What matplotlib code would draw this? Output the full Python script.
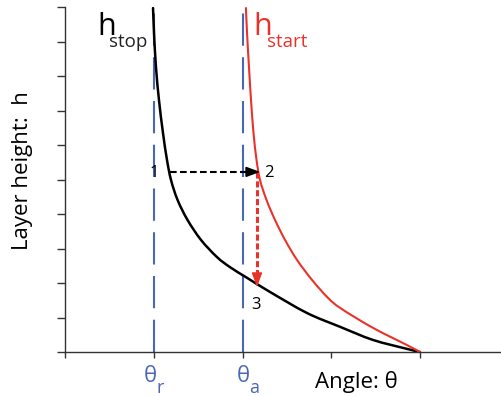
import numpy as np
import matplotlib
matplotlib.use('Agg')
from matplotlib import pyplot as plt
from matplotlib.path import Path
from matplotlib.patches import PathPatch

plt.rcParams['font.family'] = ['Open Sans', 'DejaVu Sans']

# curves (angle units: theta_r = 1, theta_a = 2)
h_stop_theta = [0.992, 1.003, 1.025, 1.059, 1.104, 1.149, 1.194, 1.268, 1.380, 1.532,
                1.713, 1.859, 2.051, 2.310, 2.727, 3.099, 3.470, 3.854, 4.0]
h_stop_h = [9.97, 9.25, 8.26, 7.30, 6.35, 5.57, 4.99, 4.41, 3.83, 3.25,
            2.75, 2.46, 2.15, 1.74, 1.13, 0.73, 0.35, 0.09, 0.0]
h_start_theta = [2.039, 2.051, 2.073, 2.096, 2.124, 2.158, 2.197, 2.270, 2.366, 2.479,
                 2.614, 2.783, 2.963, 3.110, 3.470, 3.854, 4.0]
h_start_h = [9.97, 9.25, 8.26, 7.30, 6.35, 5.57, 4.99, 4.41, 3.83, 3.25,
             2.67, 2.09, 1.57, 1.26, 0.70, 0.20, 0.0]

theta_r = 1.0
theta_a = 2.0
# path 1 -> 2 -> 3
p1 = (1.183, 5.22)
p2 = (2.20, 5.22)
p3 = (2.163, 1.88)

blue = '#4a67b5'
red = '#e8322b'
axcol = '#333333'


def smooth_path(xs, ys):
    # bezier segments through the read points (catmull-rom style handles)
    pts = np.column_stack([xs, ys])
    verts = [pts[0]]
    codes = [Path.MOVETO]
    n = len(pts)
    for i in range(n - 1):
        p0 = pts[max(i - 1, 0)]
        a = pts[i]
        b = pts[i + 1]
        p3_ = pts[min(i + 2, n - 1)]
        verts += [a + (b - p0) / 6, b - (p3_ - a) / 6, b]
        codes += [Path.CURVE4] * 3
    return Path(verts, codes)


fig = plt.figure(figsize=(5.01, 3.96), dpi=100)
ax = fig.add_axes([65/501, 44/396, 436/501, 345/396])

ax.add_patch(PathPatch(smooth_path(h_stop_theta, h_stop_h), fill=False, edgecolor='black',
                       lw=1.8, zorder=3, capstyle='round'))
ax.add_patch(PathPatch(smooth_path(h_start_theta, h_start_h), fill=False, edgecolor=red,
                       lw=1.5, zorder=3, capstyle='round'))

for th in [theta_r, theta_a]:
    ax.plot([th, th], [0, 10.05], color=blue, lw=1.5, dashes=(15.5, 5.5), clip_on=False, zorder=2)

# horizontal jump 1 -> 2
ax.plot([p1[0], p2[0] - 0.1], [p1[1], p2[1]], color='black', lw=1.5, dashes=(3.2, 1.6), zorder=4)
ax.annotate('', xy=p2, xytext=(p2[0] - 0.12, p2[1]),
            arrowprops=dict(arrowstyle='-|>,head_length=0.6,head_width=0.22', color='black',
                            lw=1.2, mutation_scale=14, shrinkA=0, shrinkB=0), zorder=5)
# vertical drop 2 -> 3
ax.plot([p3[0], p3[0]], [p2[1], p3[1] + 0.3], color=red, lw=2.2, dashes=(2.0, 0.9), zorder=4)
ax.annotate('', xy=p3, xytext=(p3[0], p3[1] + 0.35),
            arrowprops=dict(arrowstyle='-|>,head_length=0.6,head_width=0.22', color=red,
                            lw=1.2, mutation_scale=14, shrinkA=0, shrinkB=0), zorder=5)

ax.text(1.003, 5.07, '1', fontsize=12, ha='center', va='baseline')
ax.text(2.299, 5.07, '2', fontsize=12, ha='center', va='baseline')
ax.text(2.152, 1.25, '3', fontsize=12, ha='center', va='baseline')

ax.text(0.36, 9.19, 'h', fontsize=22, ha='left', va='baseline', color='black')
ax.text(0.50, 8.84, 'stop', fontsize=13.5, ha='left', va='baseline', color='#222222')
ax.text(2.118, 9.19, 'h', fontsize=22, ha='left', va='baseline', color=red)
ax.text(2.276, 8.84, 'start', fontsize=13.5, ha='left', va='baseline', color=red)

ax.set_xlim(0, 436/88.75)
ax.set_ylim(0, 10)
ax.set_xticks([0, 1, 2, 3, 4])
ax.set_yticks(np.arange(0, 11, 1))
ax.set_xticklabels([])
ax.set_yticklabels([])
ax.tick_params(axis='x', direction='out', length=4, width=1, color=axcol)
ax.tick_params(axis='y', direction='out', length=6, width=1, color=axcol)
for s in ['top', 'right']:
    ax.spines[s].set_visible(False)
for s in ['left', 'bottom']:
    ax.spines[s].set_color(axcol)
    ax.spines[s].set_linewidth(1.0)
ax.patch.set_alpha(0)

# theta labels under the axis
fig.text(157/501, 1 - 382/396, 'θ', fontsize=16, color=blue, ha='right', va='baseline')
fig.text(156/501, 1 - 393/396, 'r', fontsize=13, color=blue, ha='left', va='baseline')
fig.text(250/501, 1 - 382/396, 'θ', fontsize=16, color=blue, ha='right', va='baseline')
fig.text(249/501, 1 - 393/396, 'a', fontsize=13, color=blue, ha='left', va='baseline')

fig.text(315/501, 1 - 388/396, 'Angle: θ', fontsize=16, ha='left', va='baseline')
fig.text(23/501, 1 - 171/396, 'Layer height:  h', fontsize=16, rotation=90, ha='center', va='center')

plt.savefig('out.png', dpi=100)
